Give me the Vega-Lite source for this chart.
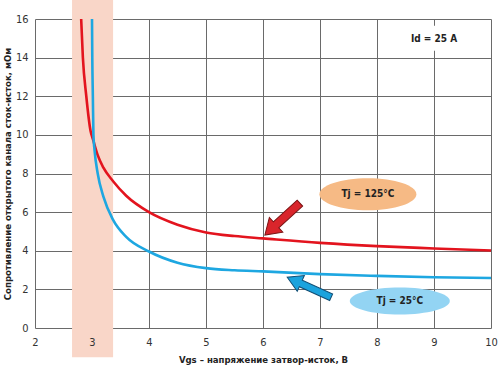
{
  "$schema": "https://vega.github.io/schema/vega-lite/v6.json",
  "width": 456,
  "height": 309,
  "autosize": "none",
  "padding": {"left": 35, "top": 19, "right": 9, "bottom": 37},
  "background": "white",
  "config": {
    "view": {"stroke": null},
    "font": "DejaVu Sans Condensed",
    "axis": {
      "labelFont": "DejaVu Sans Condensed",
      "labelFontSize": 11,
      "labelColor": "#333333",
      "labelOverlap": false,
      "labelFlush": false,
      "titleFont": "DejaVu Sans Condensed",
      "titleFontSize": 9.5,
      "titleFontWeight": "bold",
      "titleColor": "#222222",
      "gridColor": "#6a6a6a",
      "gridWidth": 1,
      "gridOpacity": 1
    }
  },
  "datasets": {
    "curves": [
      {"vgs": 2.81, "r": 16, "tj": "125"},
      {"vgs": 2.84, "r": 14, "tj": "125"},
      {"vgs": 2.9, "r": 12, "tj": "125"},
      {"vgs": 2.975, "r": 10.2, "tj": "125"},
      {"vgs": 3.02, "r": 9.74, "tj": "125"},
      {"vgs": 3.1, "r": 8.95, "tj": "125"},
      {"vgs": 3.2, "r": 8.3, "tj": "125"},
      {"vgs": 3.37, "r": 7.6, "tj": "125"},
      {"vgs": 3.6, "r": 6.85, "tj": "125"},
      {"vgs": 4.0, "r": 6.0, "tj": "125"},
      {"vgs": 4.5, "r": 5.35, "tj": "125"},
      {"vgs": 5.0, "r": 4.95, "tj": "125"},
      {"vgs": 5.5, "r": 4.76, "tj": "125"},
      {"vgs": 6.0, "r": 4.64, "tj": "125"},
      {"vgs": 7.0, "r": 4.41, "tj": "125"},
      {"vgs": 8.0, "r": 4.24, "tj": "125"},
      {"vgs": 9.0, "r": 4.12, "tj": "125"},
      {"vgs": 10.0, "r": 4.01, "tj": "125"},
      {"vgs": 3.0, "r": 16, "tj": "25"},
      {"vgs": 3.005, "r": 14, "tj": "25"},
      {"vgs": 3.015, "r": 12, "tj": "25"},
      {"vgs": 3.025, "r": 10, "tj": "25"},
      {"vgs": 3.045, "r": 9.2, "tj": "25"},
      {"vgs": 3.1, "r": 8.0, "tj": "25"},
      {"vgs": 3.2, "r": 6.8, "tj": "25"},
      {"vgs": 3.37, "r": 5.6, "tj": "25"},
      {"vgs": 3.6, "r": 4.72, "tj": "25"},
      {"vgs": 4.0, "r": 3.96, "tj": "25"},
      {"vgs": 4.5, "r": 3.38, "tj": "25"},
      {"vgs": 5.0, "r": 3.1, "tj": "25"},
      {"vgs": 5.5, "r": 2.99, "tj": "25"},
      {"vgs": 6.0, "r": 2.93, "tj": "25"},
      {"vgs": 7.0, "r": 2.79, "tj": "25"},
      {"vgs": 8.0, "r": 2.7, "tj": "25"},
      {"vgs": 9.0, "r": 2.63, "tj": "25"},
      {"vgs": 10.0, "r": 2.59, "tj": "25"}
    ],
    "band": [{"from": 2.65, "to": 3.37}],
    "labels": [
      {"x": 7.84, "y": 6.93, "text": "Tj = 125°C", "tj": "125"},
      {"x": 8.4, "y": 1.4, "text": "Tj = 25°C", "tj": "25"}
    ],
    "arrows": [
      {"x": 6.34, "y": 5.64, "tj": "125"},
      {"x": 6.81, "y": 2.11, "tj": "25"}
    ],
    "note": [{"x": 9.0, "y": 14.97, "x1": 8.6, "x2": 9.4, "y1": 14.35, "y2": 15.65, "text": "Id = 25 A"}]
  },
  "resolve": {"axis": {"x": "independent"}},
  "layer": [
    {
      "data": {"name": "band"},
      "mark": {"type": "rect", "color": "#F9D6C8", "clip": false},
      "encoding": {
        "x": {
          "field": "from", "type": "quantitative",
          "scale": {"domain": [2, 10], "nice": false, "zero": false},
          "axis": {"orient": "bottom", "grid": true, "values": [2, 3, 4, 5, 6, 7, 8, 9, 10], "tickCount": 20, "format": "d", "labels": false, "ticks": false, "domain": false, "title": null, "zindex": 0}
        },
        "x2": {"field": "to"},
        "y": {
          "datum": -1.52, "type": "quantitative",
          "scale": {"domain": [0, 16], "nice": false}
        },
        "y2": {"datum": 17.5}
      }
    },
    {
      "data": {"name": "note"},
      "mark": {"type": "rect", "color": "white"},
      "encoding": {
        "x": {"field": "x1", "type": "quantitative", "axis": null},
        "x2": {"field": "x2"},
        "y": {"field": "y1", "type": "quantitative"},
        "y2": {"field": "y2"}
      }
    },
    {
      "data": {"name": "note"},
      "mark": {"type": "text", "font": "DejaVu Sans Condensed", "fontWeight": "bold", "fontSize": 10, "color": "#222222"},
      "encoding": {
        "x": {"field": "x", "type": "quantitative", "axis": null},
        "y": {"field": "y", "type": "quantitative"},
        "text": {"field": "text"}
      }
    },
    {
      "data": {"name": "curves"},
      "mark": {"type": "line", "strokeWidth": 2.6, "interpolate": "monotone"},
      "encoding": {
        "x": {
          "field": "vgs", "type": "quantitative",
          "axis": {"orient": "bottom", "grid": false, "values": [2, 3, 4, 5, 6, 7, 8, 9, 10], "tickCount": 20, "format": "d", "domain": false, "ticks": false, "labelPadding": 8, "titlePadding": 7, "zindex": 1, "title": "Vgs – напряжение затвор-исток, В"}
        },
        "y": {
          "field": "r", "type": "quantitative",
          "axis": {"grid": true, "values": [0, 2, 4, 6, 8, 10, 12, 14, 16], "tickCount": 20, "format": "d", "domain": false, "ticks": false, "labelPadding": 7, "titlePadding": 3, "zindex": 0, "title": "Сопротивление открытого канала сток-исток, мОм"}
        },
        "color": {"field": "tj", "type": "nominal", "scale": {"domain": ["125", "25"], "range": ["#E3141E", "#1EA7E1"]}, "legend": null},
        "order": {"field": "vgs"}
      }
    },
    {
      "data": {"name": "labels"},
      "transform": [{"filter": "datum.tj === '125'"}],
      "mark": {"type": "point", "filled": true, "opacity": 1, "color": "#F6BA85", "size": 9409,
        "shape": "M-1,0C-1,-0.182,-0.552,-0.33,0,-0.33C0.552,-0.33,1,-0.182,1,0C1,0.182,0.552,0.33,0,0.33C-0.552,0.33,-1,0.182,-1,0Z"},
      "encoding": {
        "x": {"field": "x", "type": "quantitative", "axis": null},
        "y": {"field": "y", "type": "quantitative"}
      }
    },
    {
      "data": {"name": "labels"},
      "transform": [{"filter": "datum.tj === '25'"}],
      "mark": {"type": "point", "filled": true, "opacity": 1, "color": "#93D4F3", "size": 10000,
        "shape": "M-1,0C-1,-0.149,-0.552,-0.27,0,-0.27C0.552,-0.27,1,-0.149,1,0C1,0.149,0.552,0.27,0,0.27C-0.552,0.27,-1,0.149,-1,0Z"},
      "encoding": {
        "x": {"field": "x", "type": "quantitative", "axis": null},
        "y": {"field": "y", "type": "quantitative"}
      }
    },
    {
      "data": {"name": "labels"},
      "mark": {"type": "text", "font": "DejaVu Sans Condensed", "fontWeight": "bold", "fontSize": 10, "color": "#222222"},
      "encoding": {
        "x": {"field": "x", "type": "quantitative", "axis": null},
        "y": {"field": "y", "type": "quantitative"},
        "text": {"field": "text"}
      }
    },
    {
      "data": {"name": "arrows"},
      "transform": [{"filter": "datum.tj === '125'"}],
      "mark": {"type": "point", "filled": true, "opacity": 1, "color": "#D9252B", "stroke": "#7A1414", "strokeWidth": 1, "size": 2250, "angle": 137.6,
        "shape": "M-1,-0.17L0.36,-0.17L0.36,-0.42L1,0L0.36,0.42L0.36,0.17L-1,0.17Z"},
      "encoding": {
        "x": {"field": "x", "type": "quantitative", "axis": null},
        "y": {"field": "y", "type": "quantitative"}
      }
    },
    {
      "data": {"name": "arrows"},
      "transform": [{"filter": "datum.tj === '25'"}],
      "mark": {"type": "point", "filled": true, "opacity": 1, "color": "#1CA3DD", "stroke": "#124E74", "strokeWidth": 1, "size": 2330, "angle": 204.4,
        "shape": "M-1,-0.15L0.38,-0.15L0.38,-0.36L1,0L0.38,0.36L0.38,0.15L-1,0.15Z"},
      "encoding": {
        "x": {"field": "x", "type": "quantitative", "axis": null},
        "y": {"field": "y", "type": "quantitative"}
      }
    }
  ]
}
